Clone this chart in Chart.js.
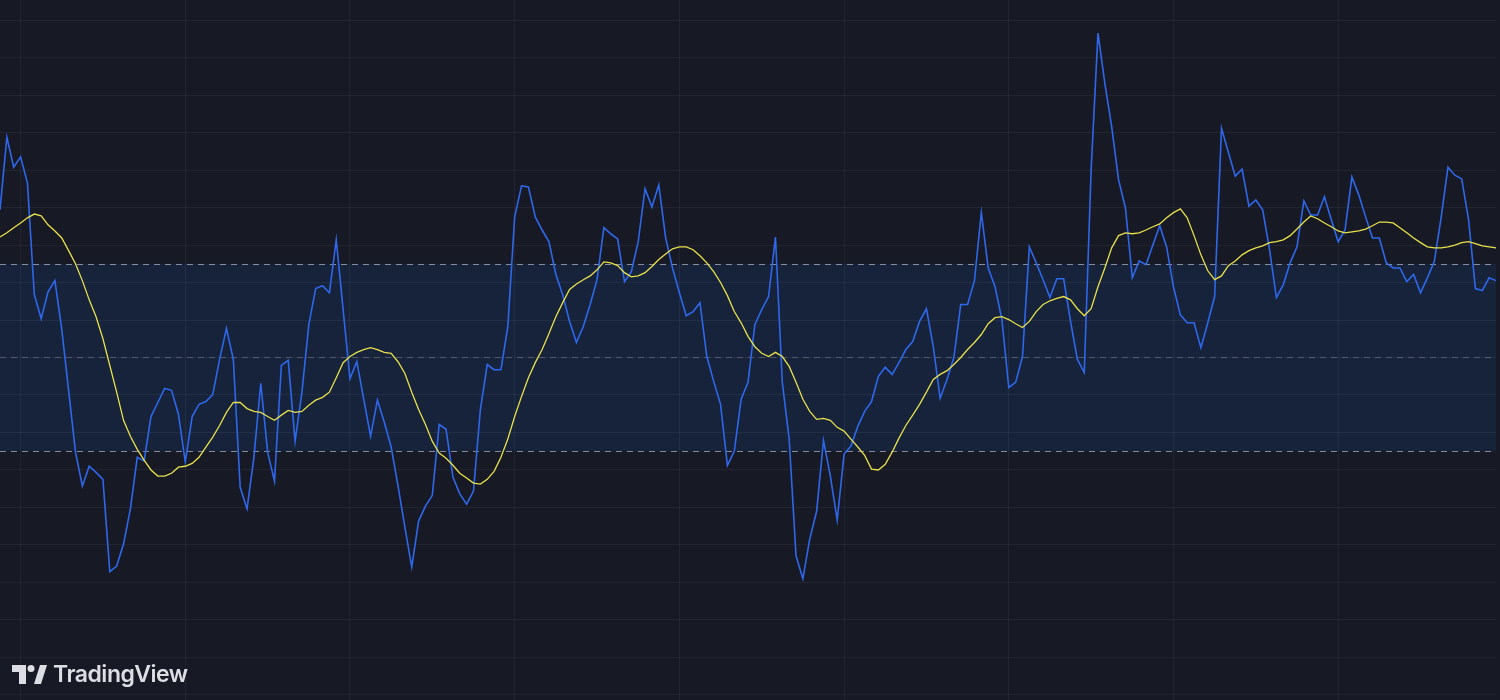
<!DOCTYPE html>
<html>
<head>
<meta charset="utf-8">
<script src="https://cdn.jsdelivr.net/npm/chart.js@4.4.1/dist/chart.umd.min.js"></script>
<style>
  html, body { margin: 0; padding: 0; background: #171a24; overflow: hidden; }
  #wrap { position: relative; width: 1500px; height: 700px; }
  #brand { position: absolute; left: 12px; top: 660px; display: flex; align-items: center; color: #dcdee4;
           font-family: Inter, "Noto Sans", sans-serif; font-weight: 600; font-size: 23px; letter-spacing: -0.5px; }
  #brand svg { margin-right: 5px; }
</style>
</head>
<body>
<div id="wrap">
  <canvas id="chart" width="1500" height="700"></canvas>
  <div id="brand">
    <svg width="36" height="20" viewBox="0 0 36 20">
      <path d="M0 1 H14 V20 H7 V8 H0 Z" fill="#dcdee4"/>
      <circle cx="19" cy="4.5" r="3.5" fill="#dcdee4"/>
      <path d="M22 20 L28 1 H35 L29 20 Z" fill="#dcdee4"/>
    </svg>
    <span>TradingView</span>
  </div>
</div>
<script>
// oscillator values per bar
const oscValues = [81.5,97.0,90.6,92.8,87.2,63.4,58.3,64.0,66.4,56.0,
  43.0,29.8,22.6,26.8,25.5,24.0,4.3,5.5,10.2,17.7,
  28.7,27.9,37.4,40.4,43.4,43.0,37.9,27.7,37.4,40.0,
  40.6,42.1,49.6,56.2,49.6,22.3,17.7,28.7,44.5,29.8,
  23.6,48.3,49.4,32.1,42.6,57.0,64.7,65.3,63.8,75.1,
  60.2,45.5,49.1,41.1,33.2,40.9,36.2,30.9,22.6,13.8,
  5.3,15.1,18.3,20.6,35.7,34.7,24.5,20.9,18.7,21.5,
  38.9,48.5,47.4,47.4,56.6,80.0,86.6,86.4,80.0,77.2,
  74.7,67.7,63.4,57.7,53.2,56.6,61.3,66.6,77.7,76.4,
  75.3,66.2,68.3,74.7,86.0,82.1,86.8,75.5,69.1,63.8,
  58.9,59.8,61.7,50.2,44.9,40.0,27.0,30.0,41.1,44.7,
  57.0,60.2,63.0,75.7,44.7,32.6,7.7,2.8,11.3,17.2,
  32.3,24.7,15.3,29.4,31.1,35.3,38.5,40.6,46.0,47.9,
  46.4,48.9,51.7,53.4,57.7,60.4,52.3,41.3,45.3,50.0,
  61.3,61.3,66.4,80.9,69.1,65.1,58.1,43.6,44.7,50.2,
  73.6,70.2,66.6,62.8,66.8,66.8,57.7,49.6,46.8,90.0,
  119.2,108.5,99.2,87.9,81.9,67.0,70.6,69.8,74.0,78.1,
  73.6,65.1,59.1,57.4,57.4,52.1,57.4,63.0,98.9,93.8,
  88.7,90.2,82.3,83.6,81.5,73.0,62.8,65.5,70.2,73.6,
  83.4,80.4,80.4,84.3,79.4,74.7,77.2,88.5,84.7,80.0,
  75.5,75.5,70.2,69.1,69.1,66.2,67.7,63.8,67.0,70.4,
  79.8,90.6,88.9,88.1,79.4,64.7,64.3,67.0,66.4];

// smoothed signal line per bar
const signalValues = [75.7,76.6,77.7,78.7,79.8,80.6,80.2,78.3,77.0,75.5,
  72.8,70.0,66.4,62.3,58.7,54.0,48.3,42.6,36.6,33.2,
  30.4,28.1,26.0,24.7,24.7,25.3,26.6,26.8,27.4,28.7,
  30.9,33.0,35.5,38.3,40.4,40.4,39.1,38.5,38.3,37.4,
  36.6,37.7,38.7,38.3,38.5,39.8,40.9,41.5,42.6,45.7,
  48.9,50.2,51.1,51.7,52.1,51.7,51.1,50.9,49.1,46.6,
  42.6,38.9,35.7,32.1,29.6,28.5,27.0,25.3,24.3,23.2,
  23.0,24.0,25.7,28.7,32.6,37.4,41.7,45.7,48.9,51.7,
  55.1,58.7,61.7,64.5,65.7,66.6,67.4,68.7,70.4,70.2,
  69.6,68.1,67.2,67.4,68.1,69.4,70.9,72.1,73.2,73.6,
  73.6,73.0,71.7,70.2,68.3,66.0,63.2,59.8,57.4,54.5,
  52.3,50.9,50.2,51.1,50.2,48.1,44.7,41.1,38.5,36.8,
  37.0,36.6,35.1,34.3,32.6,30.9,29.1,26.2,26.0,27.2,
  29.8,32.8,35.5,37.7,40.0,42.6,45.3,46.4,47.2,48.5,
  50.0,51.7,53.2,54.9,57.2,58.5,58.7,58.1,57.2,56.4,
  57.7,59.8,61.3,62.1,62.6,63.0,62.3,60.4,58.9,60.4,
  65.1,69.1,73.4,76.0,76.6,76.4,76.6,77.2,77.9,78.5,
  79.8,80.9,81.7,79.8,76.0,71.9,68.5,66.6,67.4,69.6,
  70.6,71.9,72.8,73.4,73.8,74.5,74.7,75.1,76.0,77.4,
  78.9,80.2,79.6,78.7,77.9,77.0,76.6,76.8,77.0,77.4,
  78.1,78.9,78.9,78.7,77.7,76.6,75.5,74.5,73.6,73.4,
  73.4,73.6,74.0,74.5,74.7,74.3,73.8,73.6,73.4];

// band levels: upper, middle, lower
const upperLevel = 70;
const middleLevel = 50;
const lowerLevel = 30;

// horizontal grid levels and bar indexes of the vertical grid lines
const gridLevels = [-22,-14,-6,2,10,18,26,34,42,50,58,66,74,82,90,98,106,114,122];
const timeGridBars = [3,27,51,75,99,123,147,171,195];

const barLabels = oscValues.map((v, i) => String(i));

// band fill behind the grid, dashed level lines above it
const bandPlugin = {
    id: 'band',
    beforeDraw(chart) {
        const ctx = chart.ctx;
        const area = chart.chartArea;
        const y = chart.scales.y;
        ctx.save();
        ctx.fillStyle = '#16233a';
        const top = y.getPixelForValue(upperLevel);
        const bottom = y.getPixelForValue(lowerLevel);
        ctx.fillRect(area.left, top, area.right - area.left, bottom - top);
        ctx.restore();
    },
    beforeDatasetsDraw(chart) {
        const ctx = chart.ctx;
        const area = chart.chartArea;
        const y = chart.scales.y;
        ctx.save();
        ctx.lineWidth = 1;
        ctx.setLineDash([6, 5]);
        [[upperLevel, 'rgba(165,168,180,0.8)'], [middleLevel, 'rgba(140,143,155,0.45)'], [lowerLevel, 'rgba(165,168,180,0.8)']].forEach(function(l) {
            const py = Math.round(y.getPixelForValue(l[0])) + 0.5;
            ctx.strokeStyle = l[1];
            ctx.beginPath();
            ctx.moveTo(area.left, py);
            ctx.lineTo(area.right, py);
            ctx.stroke();
        });
        ctx.restore();
    }
};

const ctx = document.getElementById('chart').getContext('2d');
const chart = new Chart(ctx, {
    type: 'line',
    data: {
        labels: barLabels,
        datasets: [{
            label: 'Signal',
            data: signalValues,
            borderColor: '#e8e04c',
            borderWidth: 1.3,
            pointRadius: 0,
            tension: 0
        }, {
            label: 'Oscillator',
            data: oscValues,
            borderColor: '#2f67ea',
            borderWidth: 1.6,
            pointRadius: 0,
            tension: 0
        }]
    },
    options: {
        responsive: false,
        devicePixelRatio: 1,
        animation: false,
        layout: { padding: { left: 0, right: 4, top: 0, bottom: 0 } },
        plugins: { legend: { display: false }, tooltip: { enabled: false } },
        scales: {
            x: {
                type: 'category',
                offset: false,
                afterBuildTicks: function(scale) {
                    scale.ticks = timeGridBars.map(function(v) { return { value: v }; });
                },
                ticks: { display: false },
                grid: { color: 'rgba(255,255,255,0.05)', drawTicks: false },
                border: { display: false }
            },
            y: {
                min: -23.07,
                max: 126.27,
                afterBuildTicks: function(scale) {
                    scale.ticks = gridLevels.map(function(v) { return { value: v }; });
                },
                ticks: { display: false },
                grid: { color: 'rgba(255,255,255,0.05)', drawTicks: false },
                border: { display: false }
            }
        }
    },
    plugins: [bandPlugin]
});
</script>
</body>
</html>
